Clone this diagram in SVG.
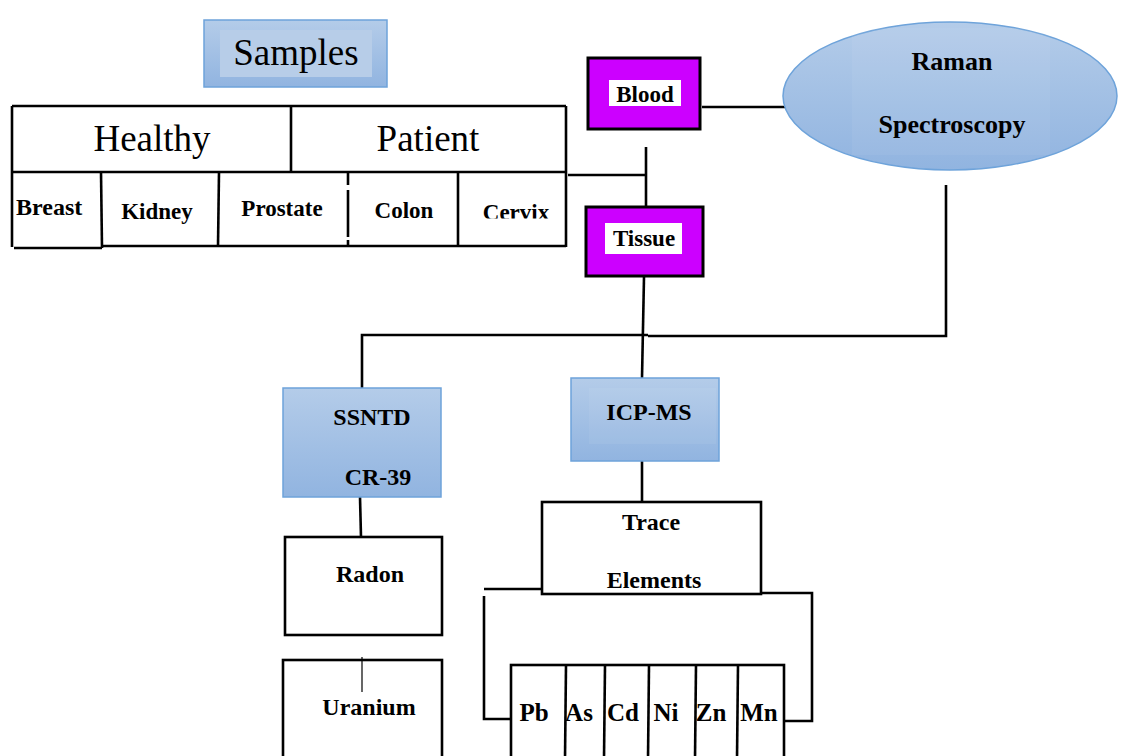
<svg xmlns="http://www.w3.org/2000/svg" width="1123" height="756" viewBox="0 0 1123 756">
  <defs>
    <linearGradient id="blueFill" x1="0" y1="0" x2="0" y2="1">
      <stop offset="0" stop-color="#b4cce9"/>
      <stop offset="1" stop-color="#91b4e0"/>
    </linearGradient>
    <clipPath id="cervixClip">
      <rect x="460" y="180" width="104" height="38.5"/>
    </clipPath>
  </defs>
  <style>
    .line { stroke: #000; stroke-width: 2.6; fill: none; }
    .thin { stroke: #000; stroke-width: 1.2; fill: none; }
    .box { fill: #fff; stroke: #000; stroke-width: 2.6; }
    .blue { fill: url(#blueFill); stroke: #6ea3da; stroke-width: 1.5; }
    .magenta { fill: #cc00ff; stroke: #000; stroke-width: 3; }
    .serif { font-family: "Liberation Serif", "Times New Roman", serif; fill: #000; }
    .big { font-size: 37px; }
    .bold { font-size: 23px; font-weight: bold; }
    .bold24 { font-size: 24px; font-weight: bold; }
    .el { font-size: 25px; font-weight: bold; }
  </style>
  <rect width="1123" height="756" fill="#fff"/>

  <!-- connectors -->
  <g id="connectors">
    <line class="line" x1="568" y1="175" x2="646" y2="175"/>
    <line class="line" x1="646" y1="147" x2="646" y2="207"/>
    <line class="line" x1="702" y1="107" x2="788" y2="107"/>
    <line class="line" x1="644" y1="277" x2="642" y2="378"/>
    <polyline class="line" points="362,388 362,335 648,335"/>
    <polyline class="line" points="648,336 946,336 946,185"/>
    <line class="line" x1="642" y1="461" x2="642" y2="502"/>
    <line class="line" x1="360" y1="497" x2="361" y2="537"/>
    <line class="line" x1="484" y1="589" x2="542" y2="589"/>
    <polyline class="line" points="484,596 484,719 511,719"/>
    <polyline class="line" points="761,593 812,593 812,721 784,721"/>
  </g>

  <!-- samples title -->
  <g id="samples">
    <rect class="blue" x="204" y="20" width="183" height="67"/>
    <rect x="220" y="30" width="152" height="47" fill="#b7cde8"/>
    <text class="serif big" x="296" y="65" text-anchor="middle">Samples</text>
  </g>

  <!-- sample table -->
  <g id="sample-table">
    <rect x="12" y="106" width="554" height="140" fill="#fff"/>
    <line class="line" x1="12" y1="106" x2="566" y2="106"/>
    <line class="line" x1="12" y1="106" x2="12" y2="247"/>
    <line class="line" x1="566" y1="106" x2="566" y2="247"/>
    <line class="line" x1="12" y1="172" x2="566" y2="172"/>
    <line class="line" x1="291" y1="106" x2="291" y2="172"/>
    <line class="line" x1="14" y1="248" x2="102" y2="248"/>
    <line class="line" x1="102" y1="246" x2="566" y2="246"/>
    <line class="line" x1="101" y1="172" x2="102" y2="248"/>
    <line class="line" x1="219" y1="172" x2="218" y2="246"/>
    <line class="line" x1="348" y1="173" x2="348" y2="185"/>
    <line class="line" x1="348" y1="190" x2="348" y2="237"/>
    <line class="line" x1="348" y1="240" x2="348" y2="246"/>
    <line class="line" x1="458" y1="172" x2="458" y2="246"/>
    <text class="serif big" x="152" y="151" text-anchor="middle">Healthy</text>
    <text class="serif big" x="428" y="151" text-anchor="middle">Patient</text>
    <text class="serif bold" x="16" y="215" style="font-size:24px">Breast</text>
    <text class="serif bold" x="157" y="219" text-anchor="middle">Kidney</text>
    <text class="serif bold" x="282" y="216" text-anchor="middle">Prostate</text>
    <text class="serif bold" x="404" y="218" text-anchor="middle">Colon</text>
    <text class="serif bold" x="516" y="220" text-anchor="middle" clip-path="url(#cervixClip)">Cervix</text>
  </g>

  <!-- blood -->
  <g id="blood">
    <rect class="magenta" x="588" y="58" width="112" height="71"/>
    <rect x="609" y="80" width="72" height="26" fill="#fff"/>
    <text class="serif bold" x="645" y="102" text-anchor="middle">Blood</text>
  </g>

  <!-- tissue -->
  <g id="tissue">
    <rect class="magenta" x="586" y="207" width="117" height="69"/>
    <rect x="605" y="223" width="77" height="31" fill="#fff"/>
    <text class="serif bold" x="644" y="246" text-anchor="middle">Tissue</text>
  </g>

  <!-- raman spectroscopy -->
  <g id="raman">
    <ellipse cx="950" cy="96" rx="167" ry="74" fill="url(#blueFill)" stroke="#6ea3da" stroke-width="1.5"/>
    <rect x="852" y="28" width="198" height="127" fill="#ffffff" opacity="0.05"/>
    <text class="serif bold24" x="952" y="70" text-anchor="middle" style="font-size:26px">Raman</text>
    <text class="serif bold24" x="952" y="133" text-anchor="middle" style="font-size:26px">Spectroscopy</text>
  </g>

  <!-- SSNTD -->
  <g id="ssntd">
    <rect class="blue" x="283" y="388" width="158" height="109"/>
    <text class="serif bold24" x="372" y="425" text-anchor="middle">SSNTD</text>
    <text class="serif bold24" x="378" y="485" text-anchor="middle">CR-39</text>
  </g>

  <!-- radon -->
  <g id="radon">
    <rect class="box" x="285" y="537" width="157" height="98"/>
    <text class="serif bold24" x="370" y="582" text-anchor="middle">Radon</text>
  </g>

  <!-- uranium -->
  <g id="uranium">
    <rect class="box" x="283" y="660" width="159" height="110"/>
    <line class="thin" x1="362" y1="657" x2="362" y2="692"/>
    <text class="serif bold24" x="369" y="715" text-anchor="middle">Uranium</text>
  </g>

  <!-- ICP-MS -->
  <g id="icpms">
    <rect class="blue" x="571" y="378" width="148" height="83"/>
    <rect x="589" y="388" width="127" height="56" fill="#ffffff" opacity="0.06"/>
    <text class="serif bold24" x="649" y="420" text-anchor="middle">ICP-MS</text>
  </g>

  <!-- trace elements -->
  <g id="trace-elements">
    <rect class="box" x="542" y="502" width="219" height="92"/>
    <text class="serif bold24" x="651" y="530" text-anchor="middle">Trace</text>
    <text class="serif bold24" x="654" y="588" text-anchor="middle">Elements</text>
  </g>

  <!-- element table -->
  <g id="element-table">
    <rect class="box" x="511" y="665" width="273" height="110"/>
    <line class="line" x1="566" y1="665" x2="565" y2="760"/>
    <line class="line" x1="605" y1="665" x2="604" y2="760"/>
    <line class="line" x1="649" y1="665" x2="648" y2="760"/>
    <line class="line" x1="696" y1="665" x2="695" y2="760"/>
    <line class="line" x1="738" y1="665" x2="737" y2="760"/>
    <text class="serif el" x="534" y="721" text-anchor="middle">Pb</text>
    <text class="serif el" x="579" y="721" text-anchor="middle">As</text>
    <text class="serif el" x="623" y="721" text-anchor="middle">Cd</text>
    <text class="serif el" x="666" y="721" text-anchor="middle">Ni</text>
    <text class="serif el" x="711" y="721" text-anchor="middle">Zn</text>
    <text class="serif el" x="759" y="721" text-anchor="middle">Mn</text>
  </g>
</svg>
